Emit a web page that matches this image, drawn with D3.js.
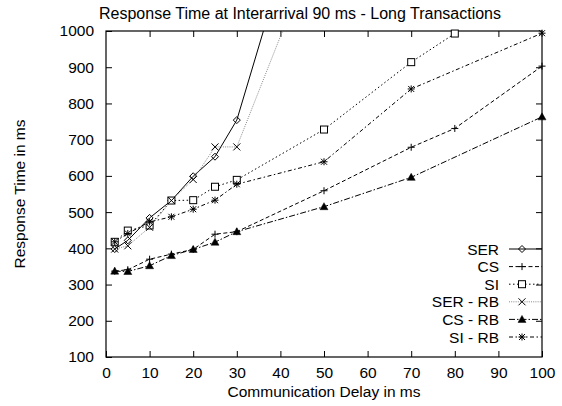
<!DOCTYPE html>
<html>
<head>
<meta charset="utf-8">
<script src="https://cdn.jsdelivr.net/npm/d3@7"></script>
<style>
  body { margin: 0; background: #fff; }
  text { font-family: "Liberation Sans", Arial, sans-serif; fill: #000; }
</style>
</head>
<body>
<svg id="chart"></svg>
<script>
// values (response time in ms)
const xTicks = [0, 10, 20, 30, 40, 50, 60, 70, 80, 90, 100];
const yTicks = [100, 200, 300, 400, 500, 600, 700, 800, 900, 1000];

const serX   = [2, 5, 10, 15, 20, 25, 30, 50];
const serY   = [398, 422, 484, 532, 599, 653, 754, 1560];
const csX    = [2, 5, 10, 15, 20, 25, 30, 50, 70, 80, 100];
const csY    = [337, 341, 370, 384, 397, 439, 446, 559, 679, 731, 903];
const siX    = [2, 5, 10, 15, 20, 25, 30, 50, 70, 80, 100];
const siY    = [418, 449, 463, 532, 533, 570, 589, 728, 914, 993, 1150];
const serRbX = [2, 5, 10, 15, 20, 25, 30, 50];
const serRbY = [398, 407, 458, 532, 590, 680, 680, 1290];
const csRbX  = [2, 5, 10, 15, 20, 25, 30, 50, 70, 100];
const csRbY  = [337, 336, 352, 380, 397, 417, 446, 515, 596, 763];
const siRbX  = [2, 5, 10, 15, 20, 25, 30, 50, 70, 100];
const siRbY  = [418, 441, 473, 487, 508, 533, 577, 639, 840, 994];

const seriesNames = ["SER", "CS", "SI", "SER - RB", "CS - RB", "SI - RB"];

const config = {
    width: 562, height: 406,
    left: 106, right: 542, top: 31, bottom: 357,
    tick: 6,
    font: 15.5
};

const series = [
    { name: seriesNames[0], xs: serX,   ys: serY,   mark: "diamond",  dash: null,            color: "#000" },
    { name: seriesNames[1], xs: csX,    ys: csY,    mark: "plus",     dash: "4,2.5",         color: "#000" },
    { name: seriesNames[2], xs: siX,    ys: siY,    mark: "square",   dash: "1.5,2.5",       color: "#000" },
    { name: seriesNames[3], xs: serRbX, ys: serRbY, mark: "cross",    dash: "1,1.2",         color: "#888" },
    { name: seriesNames[4], xs: csRbX,  ys: csRbY,  mark: "triangle", dash: "6,2,1.5,2",     color: "#000" },
    { name: seriesNames[5], xs: siRbX,  ys: siRbY,  mark: "star",     dash: "4,2.5,1.5,2.5", color: "#000" }
];

const svg = d3.select("#chart")
    .attr("width", config.width)
    .attr("height", config.height);

const x = d3.scaleLinear().domain([0, 100]).range([config.left, config.right]);
const y = d3.scaleLinear().domain([100, 1000]).range([config.bottom, config.top]);

svg.append("defs").append("clipPath").attr("id", "plot-clip")
    .append("rect")
    .attr("x", config.left).attr("y", config.top)
    .attr("width", config.right - config.left)
    .attr("height", config.bottom - config.top);

// axes with inward ticks, mirrored on top / right
svg.append("g")
    .attr("transform", `translate(0,${config.bottom})`)
    .call(d3.axisBottom(x).tickValues(xTicks).tickFormat(d3.format("d")).tickSize(-config.tick).tickPadding(10))
    .call(g => g.select(".domain").remove())
    .call(g => g.selectAll("text").attr("font-size", config.font));

svg.append("g")
    .attr("transform", `translate(0,${config.top})`)
    .call(d3.axisTop(x).tickValues(xTicks.slice(1, -1)).tickSize(-config.tick).tickFormat(""))
    .call(g => g.select(".domain").remove());

svg.append("g")
    .attr("transform", `translate(${config.left},0)`)
    .call(d3.axisLeft(y).tickValues(yTicks).tickFormat(d3.format("d")).tickSize(-config.tick).tickPadding(12))
    .call(g => g.select(".domain").remove())
    .call(g => g.selectAll("text").attr("font-size", config.font));

svg.append("g")
    .attr("transform", `translate(${config.right},0)`)
    .call(d3.axisRight(y).tickValues(yTicks.slice(1, -1)).tickSize(-config.tick).tickFormat(""))
    .call(g => g.select(".domain").remove());

svg.selectAll(".tick line").attr("stroke", "#000");

svg.append("rect")
    .attr("x", config.left).attr("y", config.top)
    .attr("width", config.right - config.left)
    .attr("height", config.bottom - config.top)
    .attr("fill", "none").attr("stroke", "#000").attr("stroke-width", 1.2);

// titles
svg.append("text")
    .attr("x", 300).attr("y", 19)
    .attr("text-anchor", "middle").attr("font-size", 16)
    .text("Response Time at Interarrival 90 ms - Long Transactions");

svg.append("text")
    .attr("x", (config.left + config.right) / 2).attr("y", 397)
    .attr("text-anchor", "middle").attr("font-size", config.font)
    .text("Communication Delay in ms");

svg.append("text")
    .attr("transform", `translate(25,${(config.top + config.bottom) / 2}) rotate(-90)`)
    .attr("text-anchor", "middle").attr("font-size", config.font)
    .text("Response Time in ms");

// point markers
function drawMark(g, kind, cx, cy) {
    const s = 3.5;
    if (kind === "diamond") {
        g.append("path").attr("d", `M${cx},${cy - s}L${cx + s},${cy}L${cx},${cy + s}L${cx - s},${cy}Z`)
            .attr("fill", "none").attr("stroke", "#000");
    } else if (kind === "plus") {
        g.append("path").attr("d", `M${cx - s},${cy}H${cx + s}M${cx},${cy - s}V${cy + s}`)
            .attr("stroke", "#000");
    } else if (kind === "square") {
        g.append("rect").attr("x", cx - 3.5).attr("y", cy - 3.5).attr("width", 7).attr("height", 7)
            .attr("fill", "#fff").attr("stroke", "#000");
    } else if (kind === "cross") {
        g.append("path").attr("d", `M${cx - s},${cy - s}L${cx + s},${cy + s}M${cx - s},${cy + s}L${cx + s},${cy - s}`)
            .attr("stroke", "#000");
    } else if (kind === "triangle") {
        g.append("path").attr("d", `M${cx},${cy - 4}L${cx + 4},${cy + 3}L${cx - 4},${cy + 3}Z`)
            .attr("fill", "#000").attr("stroke", "#000").attr("stroke-width", 0.5);
    } else if (kind === "star") {
        const t = 3;
        g.append("path").attr("d",
            `M${cx - s},${cy}H${cx + s}M${cx},${cy - s}V${cy + s}M${cx - t},${cy - t}L${cx + t},${cy + t}M${cx - t},${cy + t}L${cx + t},${cy - t}`)
            .attr("stroke", "#000");
    }
}

const line = d3.line().x(d => x(d[0])).y(d => y(d[1]));

const plot = svg.append("g");
series.forEach(s => {
    const pts = s.xs.map((v, i) => [v, s.ys[i]]);
    plot.append("path")
        .attr("clip-path", "url(#plot-clip)")
        .attr("d", line(pts))
        .attr("fill", "none")
        .attr("stroke", s.color)
        .attr("stroke-width", 1)
        .attr("stroke-dasharray", s.dash);
});
series.forEach(s => {
    const g = plot.append("g");
    s.xs.forEach((v, i) => {
        if (s.ys[i] <= 1000) drawMark(g, s.mark, x(v), y(s.ys[i]));
    });
});

// legend
const legend = svg.append("g");
series.forEach((s, i) => {
    const ly = 249 + i * 17.6;
    legend.append("text")
        .attr("x", 499).attr("y", ly + 5.5)
        .attr("text-anchor", "end").attr("font-size", config.font)
        .text(s.name);
    legend.append("line")
        .attr("x1", 509).attr("x2", 542).attr("y1", ly).attr("y2", ly)
        .attr("stroke", s.color).attr("stroke-width", 1)
        .attr("stroke-dasharray", s.dash);
    drawMark(legend, s.mark, 522, ly);
});
</script>
</body>
</html>
